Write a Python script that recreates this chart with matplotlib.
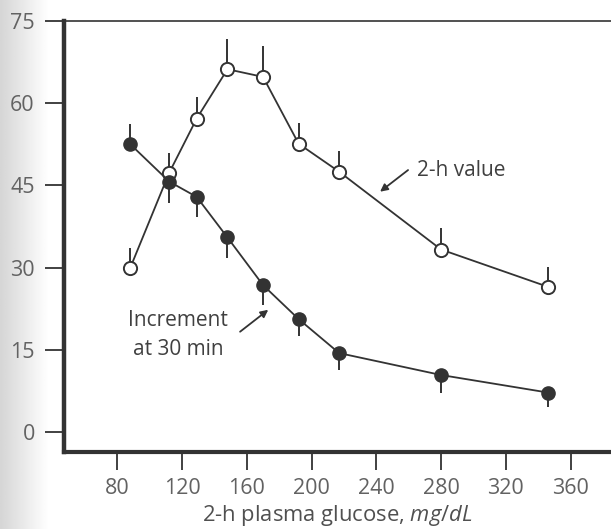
import numpy as np
import matplotlib
matplotlib.use("Agg")
import matplotlib.pyplot as plt

plt.rcParams["font.family"] = ["Open Sans", "DejaVu Sans"]
plt.rcParams["mathtext.fontset"] = "custom"
plt.rcParams["mathtext.rm"] = "Open Sans"
plt.rcParams["mathtext.it"] = "Open Sans:italic"

# 2-h plasma glucose groups (mg/dL)
glucose = [88, 112, 129, 148, 170, 192, 217, 280, 346]

# 2-h value (open circles), SEM drawn upward
two_h_value = [30.0, 47.3, 57.2, 66.2, 64.8, 52.6, 47.5, 33.3, 26.5]
two_h_sem = [3.6, 3.6, 3.9, 5.6, 5.6, 3.8, 3.7, 3.9, 3.7]

# Increment at 30 min (filled circles), SEM lower / upper parts
increment_30 = [52.5, 45.7, 42.9, 35.5, 26.8, 20.6, 14.4, 10.4, 7.2]
increment_sem_low = [0.0, 3.9, 3.6, 3.8, 3.6, 3.1, 3.1, 3.3, 2.7]
increment_sem_high = [3.7, 0.0, 0.0, 0.0, 0.0, 0.0, 0.0, 0.0, 0.0]

x_ticks = [80, 120, 160, 200, 240, 280, 320, 360]
y_ticks = [0, 15, 30, 45, 60, 75]

ink = "#333333"
label_gray = "#626262"

fig = plt.figure(figsize=(6.11, 5.29), dpi=100)
fig.patch.set_facecolor("white")

# shaded page margin on the left
bg = fig.add_axes([0, 0, 0.08, 1], zorder=0)
grad = np.linspace(0.80, 1.0, 64) ** 0.8
bg.imshow(np.tile(grad, (8, 1)), cmap="gray", vmin=0, vmax=1,
          aspect="auto", extent=[0, 1, 0, 1])
bg.set_axis_off()

ax = fig.add_axes([64 / 611, (529 - 452) / 529, 1 - 64 / 611, (452 - 21) / 529], zorder=1)
ax.patch.set_alpha(0)

ax.errorbar(glucose, two_h_value, yerr=[np.zeros(len(two_h_sem)), two_h_sem],
            fmt="none", ecolor=ink, elinewidth=1.4, capsize=0, zorder=2)
ax.errorbar(glucose, increment_30, yerr=[increment_sem_low, increment_sem_high],
            fmt="none", ecolor=ink, elinewidth=1.4, capsize=0, zorder=2)

ax.plot(glucose, two_h_value, "-o", color=ink, lw=1.3, ms=9.5,
        mfc="white", mec=ink, mew=1.4, zorder=3)
ax.plot(glucose, increment_30, "-o", color=ink, lw=1.3, ms=9.5,
        mfc=ink, mec=ink, mew=1.0, zorder=4)

ax.set_xlim(47, 385)
ax.set_ylim(-3.65, 75)
ax.set_xticks(x_ticks)
ax.set_yticks(y_ticks)

ax.spines["right"].set_visible(False)
ax.spines["left"].set_linewidth(3.2)
ax.spines["bottom"].set_linewidth(3.0)
ax.spines["top"].set_linewidth(1.2)
for s in ax.spines.values():
    s.set_color(ink)

ax.tick_params(axis="y", direction="out", length=14, width=1.3, color=ink,
               pad=7, labelsize=15.5, labelcolor=label_gray)
ax.tick_params(axis="x", direction="out", length=13, width=1.3, color=ink,
               pad=6, labelsize=15.5, labelcolor=label_gray)

ax.set_xlabel(r"2-h plasma glucose, $\mathit{mg/dL}$", fontsize=15.8,
              color="#505050", labelpad=2.5)

# annotations
arrow_kw = dict(arrowstyle="-|>", color=ink, lw=1.3, mutation_scale=11,
                shrinkA=0, shrinkB=0)
ax.annotate("", xy=(242.3, 43.85), xytext=(259.6, 47.8), arrowprops=arrow_kw)
ax.text(264.9, 47.8, "2-h value", fontsize=15, color="#404040",
        ha="left", va="center")

ax.annotate("", xy=(173.2, 22.3), xytext=(155.8, 18.3), arrowprops=arrow_kw)
ax.text(117.4, 20.4, "Increment", fontsize=15, color="#404040",
        ha="center", va="center")
ax.text(117.4, 15.0, "at 30 min", fontsize=15, color="#404040",
        ha="center", va="center")

fig.savefig("out.png", dpi=100)
